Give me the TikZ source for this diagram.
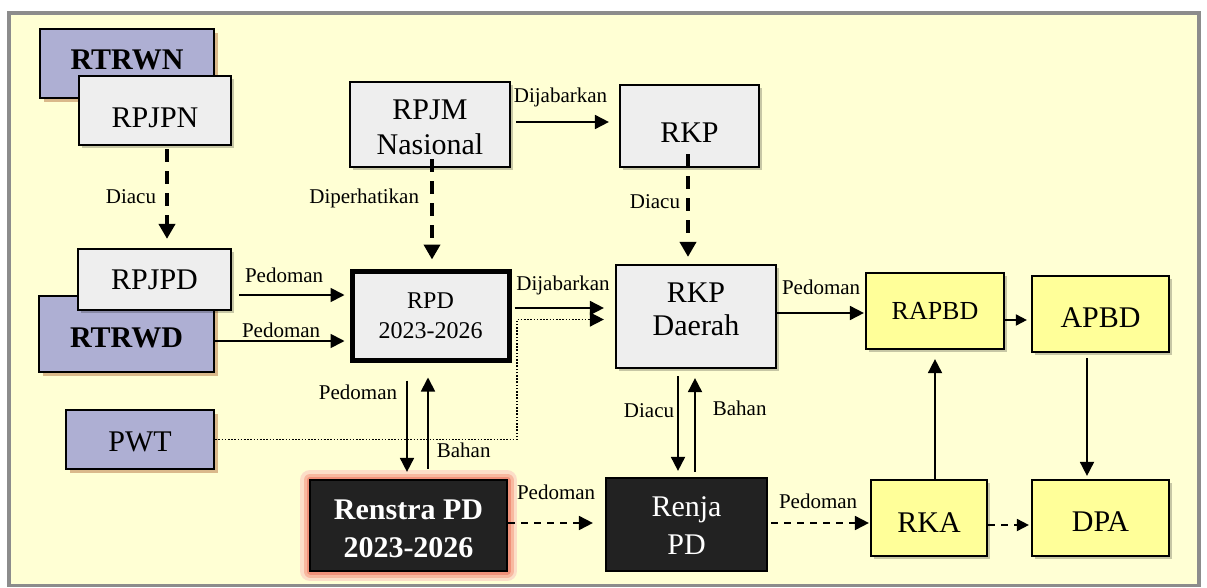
\documentclass[tikz,border=0pt]{standalone}
\usepackage{fontspec}
\setmainfont{LiberationSerif}[Extension=.ttf, UprightFont=*-Regular, BoldFont=*-Bold, ItalicFont=*-Italic, BoldItalicFont=*-BoldItalic]
\usetikzlibrary{arrows.meta,calc,shadows}
\definecolor{bgy}{RGB}{255,255,212}
\definecolor{lgray}{RGB}{238,238,238}
\definecolor{purp}{RGB}{174,175,211}
\definecolor{yel}{RGB}{255,255,153}
\definecolor{darkfill}{RGB}{34,34,34}
\definecolor{shtan}{RGB}{214,178,132}
\definecolor{framegray}{RGB}{140,140,140}
\definecolor{glowa}{RGB}{252,222,200}
\definecolor{glowb}{RGB}{248,185,160}
\definecolor{glowc}{RGB}{240,145,122}
\begin{document}
\begin{tikzpicture}[x=1pt,y=-1pt,
  basebox/.style={draw=black, line width=2.2pt, inner sep=0pt, align=center,
    font=\fontsize{30}{35}\selectfont},
  gbox/.style={basebox, fill=lgray,
    drop shadow={shadow xshift=3pt, shadow yshift=-3pt, fill=black, opacity=0.22}},
  pbox/.style={basebox, fill=purp,
    drop shadow={shadow xshift=4pt, shadow yshift=-4pt, fill=shtan, opacity=0.9}},
  ybox/.style={basebox, fill=yel,
    drop shadow={shadow xshift=3pt, shadow yshift=-3pt, fill=black, opacity=0.22}},
  dbox/.style={basebox, fill=darkfill, text=white},
  glow/.style={preaction={draw=glowa, line width=20pt, line join=round},
    preaction={draw=glowb, line width=13pt, line join=round},
    preaction={draw=glowc, line width=7pt, line join=round}},
  lab/.style={inner sep=0pt, font=\fontsize{21}{24}\selectfont, text=black},
  arr/.style={line width=1.8pt, -{Triangle[length=14pt,width=14pt]}},
  sarr/.style={line width=1.8pt, -{Triangle[length=11pt,width=11pt]}},
  tdash/.style={line width=4pt, dash pattern=on 13pt off 9pt, -{Triangle[length=15pt,width=16pt]}},
  sdash/.style={line width=1.8pt, dash pattern=on 7pt off 6pt, -{Triangle[length=14pt,width=14pt]}},
  dotarr/.style={line width=1.6pt, dash pattern=on 1.6pt off 1.6pt, -{Triangle[length=14pt,width=14pt]}}
]
\useasboundingbox (0,0) rectangle (1207,588);
\fill[white] (0,0) rectangle (1207,588);
\draw[line width=3.5pt, draw=framegray, fill=bgy] (9,13) rectangle (1199,585.5);

% left column
\node[pbox, font=\fontsize{30}{35}\selectfont\bfseries, minimum width=174pt, minimum height=69pt, text depth=7pt] (rtrwn) at (127,63.5) {RTRWN};
\node[gbox, minimum width=152pt, minimum height=69pt, text height=35pt] (rpjpn) at (155,110.5) {RPJPN};
\node[pbox, font=\fontsize{30}{35}\selectfont\bfseries, minimum width=175pt, minimum height=76pt, text height=28pt] (rtrwd) at (126.5,334) {RTRWD};
\node[gbox, minimum width=153pt, minimum height=61pt] (rpjpd) at (154.5,279.5) {RPJPD};
\node[pbox, minimum width=148pt, minimum height=59pt, text height=25pt] (pwt) at (140,439.5) {PWT};

% middle
\node[gbox, minimum width=160pt, minimum height=85pt, text height=61pt] (rpjm) at (430,124.5) {RPJM\\Nasional};
\node[gbox, minimum width=139pt, minimum height=82pt, text height=34pt] (rkp) at (689.5,126) {RKP};
\node[basebox, fill=lgray, line width=5pt, font=\fontsize{24}{30}\selectfont, minimum width=157pt, minimum height=89pt] (rpd) at (430.5,315.5) {RPD\\2023-2026};
\node[gbox, font=\fontsize{30}{33}\selectfont, minimum width=160pt, minimum height=103pt, text depth=14pt] (rkpd) at (696,316.5) {RKP\\Daerah};
\node[dbox, glow, font=\fontsize{30}{38}\selectfont\bfseries, minimum width=197pt, minimum height=91pt, text height=65pt] (renstra) at (408.5,525.5) {Renstra PD\\2023-2026};
\node[dbox, font=\fontsize{30}{38}\selectfont, minimum width=161pt, minimum height=93pt, text height=61pt] (renja) at (686.5,524.5) {Renja\\PD};

% right
\node[ybox, font=\fontsize{26}{30}\selectfont, minimum width=138pt, minimum height=76pt] (rapbd) at (935,311) {RAPBD};
\node[ybox, minimum width=137pt, minimum height=76pt, text height=28pt] (apbd) at (1100.5,314) {APBD};
\node[ybox, minimum width=116pt, minimum height=76pt, text height=28pt] (rka) at (929,518) {RKA};
\node[ybox, minimum width=137pt, minimum height=76pt, text height=28pt] (dpa) at (1100.5,518) {DPA};

% connectors
\coordinate (s1) at ($(rpjpn.south)+(12,0)$);
\draw[tdash, shorten <=3pt, shorten >=9pt] (s1) -- (s1 |- rpjpd.north)
  node[lab, pos=0, anchor=base east, xshift=-9pt, yshift=-57pt] {Diacu};

\coordinate (s2) at ($(rpjm.south)+(2,0)$);
\draw[tdash, shorten <=-9pt, shorten >=9pt] (s2) -- (s2 |- rpd.north)
  node[lab, pos=0, anchor=base east, xshift=-11pt, yshift=-35pt] {Diperhatikan};

\coordinate (s3) at ($(rkp.south)+(-1.5,0)$);
\draw[tdash, shorten <=-14pt, shorten >=7pt] (s3) -- (s3 |- rkpd.north)
  node[lab, pos=0, anchor=base east, xshift=-6pt, yshift=-40pt] {Diacu};

\coordinate (s4) at ($(rpjm.east)+(0,-2.5)$);
\draw[arr, shorten <=5pt, shorten >=10pt] (s4) -- (s4 -| rkp.west)
  node[lab, pos=0.5, anchor=base, xshift=-4.5pt, yshift=19pt] {Dijabarkan};

\coordinate (s5) at ($(rpjpd.east)+(0,15.5)$);
\draw[arr, shorten <=7pt, shorten >=5pt] (s5) -- (s5 -| rpd.west)
  node[lab, pos=0, anchor=base west, xshift=12pt, yshift=13pt] {Pedoman};

\coordinate (s6) at ($(rtrwd.east)+(0,7)$);
\draw[arr, shorten >=5pt] (s6) -- (s6 -| rpd.west)
  node[lab, pos=0, anchor=base west, xshift=26pt, yshift=4pt] {Pedoman};

\coordinate (s7) at ($(rpd.east)+(0,-7.5)$);
\draw[arr, shorten <=3pt, shorten >=11pt] (s7) -- (s7 -| rkpd.west)
  node[lab, pos=0, anchor=base west, xshift=4pt, yshift=18pt] {Dijabarkan};

\coordinate (pwtb) at (517,439.5);
\coordinate (s8) at ($(rkpd.west)+(0,3)$);
\draw[dotarr, shorten >=11pt] (pwt.east) -- (pwtb) |- (s8);

\coordinate (s9) at ($(rpd.south)+(-23.5,0)$);
\draw[arr, shorten <=18pt, shorten >=7pt] (s9) -- (s9 |- renstra.north)
  node[lab, pos=0, anchor=base east, xshift=-9pt, yshift=-37pt] {Pedoman};

\coordinate (s10) at ($(renstra.north)+(19.5,0)$);
\draw[arr, shorten <=10pt, shorten >=15pt] (s10) -- (s10 |- rpd.south)
  node[lab, pos=0, anchor=base west, xshift=8pt, yshift=21pt] {Bahan};

\coordinate (s11) at ($(renstra.east)+(0,-2.5)$);
\draw[sdash, shorten >=12pt] (s11) -- (s11 -| renja.west)
  node[lab, pos=0, anchor=base west, xshift=8pt, yshift=24pt] {Pedoman};

\coordinate (s12) at ($(rkpd.south)+(-18,0)$);
\draw[arr, shorten <=7pt, shorten >=6pt] (s12) -- (s12 |- renja.north)
  node[lab, pos=0, anchor=base east, xshift=-3pt, yshift=-48pt] {Diacu};

\coordinate (s13) at ($(renja.north)+(8.5,0)$);
\draw[arr, shorten <=5pt, shorten >=9pt] (s13) -- (s13 |- rkpd.south)
  node[lab, pos=0, anchor=base west, xshift=17pt, yshift=61pt] {Bahan};

\coordinate (s14) at ($(rkpd.east)+(0,-3.5)$);
\draw[arr, shorten >=1pt] (s14) -- (s14 -| rapbd.west)
  node[lab, pos=0, anchor=base west, xshift=4pt, yshift=19pt] {Pedoman};

\coordinate (s15) at ($(renja.east)+(0,-1.5)$);
\draw[sdash, shorten <=3pt, shorten >=1pt] (s15) -- (s15 -| rka.west)
  node[lab, pos=0, anchor=base west, xshift=10pt, yshift=15pt] {Pedoman};

\coordinate (s16) at ($(rapbd.east)+(0,9)$);
\draw[sarr, shorten >=4pt] (s16) -- (s16 -| apbd.west);

\coordinate (s17) at ($(rka.north)+(6,0)$);
\draw[arr, shorten >=9pt] (s17) -- (s17 |- rapbd.south);

\coordinate (s18) at ($(apbd.south)+(-13.5,0)$);
\draw[arr, shorten <=5pt, shorten >=3pt] (s18) -- (s18 |- dpa.north);

\coordinate (s19) at ($(rka.east)+(0,7)$);
\draw[sdash, -{Triangle[length=12pt,width=12pt]}, shorten >=2pt] (s19) -- (s19 -| dpa.west);
\end{tikzpicture}
\end{document}
